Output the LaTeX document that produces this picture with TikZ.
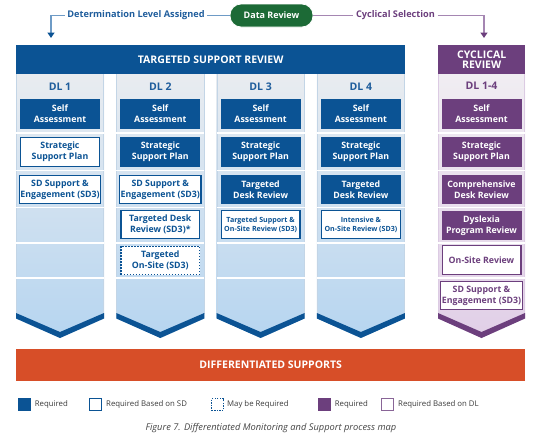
\documentclass[tikz,border=0pt]{standalone}
\usepackage{fontspec}
\setmainfont{Open Sans}
\usetikzlibrary{arrows.meta,calc}
\definecolor{tblue}{HTML}{0B5394}
\definecolor{hblue}{HTML}{1F5D9C}
\definecolor{lnblue}{HTML}{6E9BC6}
\definecolor{tpurp}{HTML}{6C3F7D}
\definecolor{lnpurp}{HTML}{A586B2}
\definecolor{tgreen}{HTML}{1C6A36}
\definecolor{torange}{HTML}{D74E28}
\definecolor{colTop}{HTML}{E9ECF0}
\definecolor{colBot}{HTML}{B6D5F0}
\definecolor{pcolTop}{HTML}{F0EDF2}
\definecolor{pcolBot}{HTML}{E1CFE7}
\definecolor{colEdge}{HTML}{C3D5E6}
\definecolor{pcolEdge}{HTML}{DCCBE3}
\definecolor{legtext}{HTML}{3A3A3A}
\definecolor{captext}{HTML}{444444}
\begin{document}
\begin{tikzpicture}[x=1pt,y=-1pt,
  box/.style={minimum width=80pt, minimum height=29.5pt, inner sep=1pt, align=center, font=\fontsize{8.8}{10.8}\selectfont\bfseries},
  req/.style={box, fill=tblue, text=white},
  sdb/.style={box, fill=white, draw=tblue, line width=1.2pt, text=tblue, minimum width=78.8pt, minimum height=28.3pt},
  maybox/.style={sdb, dash pattern=on 1.5pt off 1.5pt},
  smalltxt/.style={font=\fontsize{7.1}{9}\selectfont\bfseries},
  preq/.style={box, fill=tpurp, text=white},
  pdl/.style={box, fill=white, draw=tpurp, line width=1.2pt, text=tpurp, minimum width=78.8pt, minimum height=28.3pt},
  dlhead/.style={font=\fontsize{10.5}{12}\selectfont\bfseries, text=hblue},
  banner/.style={anchor=north west, inner sep=0pt, align=center, text=white, font=\fontsize{10.5}{12}\selectfont\bfseries},
  toplabel/.style={inner sep=2.5pt, font=\fontsize{9.2}{11}\selectfont\bfseries},
  lgsq/.style={minimum size=13pt, inner sep=0pt},
  lgtxt/.style={anchor=west, inner sep=0pt, text=legtext, font=\fontsize{7.8}{9}\selectfont},
  sep/.style={white, line width=1.2pt},
]
\useasboundingbox (0,0) rectangle (542,440);

% ---------- columns (targeted) ----------
\foreach \L in {16,116.3,216.6,316.9}{
  \shade[top color=colTop, bottom color=colBot]
    (\L,74) -- (\L+88,74) -- (\L+88,318.5) -- (\L+44,338) -- (\L,318.5) -- cycle;
  \draw[colEdge, line width=0.7pt] (\L+0.35,74) -- (\L+0.35,314) (\L+87.65,74) -- (\L+87.65,314);
  \foreach \y in {133,170.5,207.5,243,278}{
    \draw[sep] (\L,\y) -- (\L+88,\y);
  }
  \fill[tblue] (\L,313) -- (\L+44,332) -- (\L+88,313) -- (\L+88,318.5) -- (\L+44,338) -- (\L,318.5) -- cycle;
}
% ---------- cyclical column ----------
\shade[top color=pcolTop, bottom color=pcolBot]
  (438,74) -- (525,74) -- (525,318.5) -- (481.5,338) -- (438,318.5) -- cycle;
\draw[pcolEdge, line width=0.7pt] (438.35,74) -- (438.35,314) (524.65,74) -- (524.65,314);
\foreach \y in {133,170.5,207.5,243,278}{
  \draw[sep] (438,\y) -- (525,\y);
}
\fill[tpurp] (438,313) -- (481.5,332) -- (525,313) -- (525,318.5) -- (481.5,338) -- (438,318.5) -- cycle;

% ---------- banners ----------
\node[banner, fill=tblue, minimum width=389pt, minimum height=29pt] (tsr) at (16,45) {TARGETED SUPPORT REVIEW};
\node[banner, fill=tpurp, minimum width=87pt, minimum height=29pt] (cyc) at (438,45) {CYCLICAL\\[-1.5pt]REVIEW};
\node[banner, fill=torange, minimum width=509pt, minimum height=32pt] (diff) at (16,349) {DIFFERENTIATED SUPPORTS};

% ---------- top flow ----------
\node[fill=tgreen, draw=white, line width=0.8pt, rounded corners=11pt, minimum width=83pt, minimum height=23pt, inner sep=0pt,
      text=white, font=\fontsize{9}{11}\selectfont\bfseries] (dr) at (271.5,15.5) {Data Review};
\node[toplabel, text=hblue] (dla) at (136,15.5) {Determination Level Assigned};
\node[toplabel, text=tpurp] (csl) at (395.5,15.5) {Cyclical Selection};
\coordinate (ltip) at (51,38);
\coordinate (rtip) at (484,38);
\draw[lnblue, line width=1.3pt] (dla.east) -- (dr.west);
\draw[lnblue, line width=1.3pt, -{Triangle[width=7pt,length=5.5pt,color=tblue]}] (dla.west) -| (ltip);
\draw[lnpurp, line width=1.3pt] (dr.east) -- (csl.west);
\draw[lnpurp, line width=1.3pt, -{Triangle[width=7pt,length=5.5pt,color=tpurp]}] (csl.east) -| (rtip);

% ---------- column headers ----------
\node[dlhead] (h1) at (60,87) {DL 1};
\node[dlhead] (h2) at (160.3,87) {DL 2};
\node[dlhead] (h3) at (260.6,87) {DL 3};
\node[dlhead] (h4) at (360.9,87) {DL 4};
\node[dlhead, text=tpurp] (h5) at (481.5,86) {DL 1-4};

% ---------- DL 1 ----------
\node[req] (a1) at (60,114) {Self\\Assessment};
\node[sdb] (a2) at (60,152) {Strategic\\Support Plan};
\node[sdb] (a3) at (60,189.5) {SD Support \&\\Engagement (SD3)};
% ---------- DL 2 ----------
\node[req] (b1) at (160.3,114) {Self\\Assessment};
\node[req] (b2) at (160.3,152) {Strategic\\Support Plan};
\node[sdb] (b3) at (160.3,189.5) {SD Support \&\\Engagement (SD3)};
\node[sdb] (b4) at (160.3,224.5) {Targeted Desk\\Review (SD3)*};
\node[maybox] (b5) at (160.3,260.5) {Targeted\\On-Site (SD3)};
% ---------- DL 3 ----------
\node[req] (c1) at (260.6,114) {Self\\Assessment};
\node[req] (c2) at (260.6,152) {Strategic\\Support Plan};
\node[req] (c3) at (260.6,189.5) {Targeted\\Desk Review};
\node[sdb, smalltxt] (c4) at (260.6,224.5) {Targeted Support \&\\On-Site Review (SD3)};
% ---------- DL 4 ----------
\node[req] (d1) at (360.9,114) {Self\\Assessment};
\node[req] (d2) at (360.9,152) {Strategic\\Support Plan};
\node[req] (d3) at (360.9,189.5) {Targeted\\Desk Review};
\node[sdb, smalltxt] (d4) at (360.9,224.5) {Intensive \&\\On-Site Review (SD3)};
% ---------- DL 1-4 ----------
\node[preq] (e1) at (481.5,114) {Self\\Assessment};
\node[preq] (e2) at (481.5,152) {Strategic\\Support Plan};
\node[preq] (e3) at (481.5,189.5) {Comprehensive\\Desk Review};
\node[preq] (e4) at (481.5,225.5) {Dyslexia\\Program Review};
\node[pdl] (e5) at (481.5,260) {On-Site Review};
\node[pdl] (e6) at (481.5,295.5) {SD Support \&\\Engagement (SD3)};

% ---------- legend ----------
\node[lgsq, fill=tblue] (l1) at (24.5,404.5) {};
\node[lgtxt] (t1) at ([xshift=3.5pt]l1.east) {Required};
\node[lgsq, fill=white, draw=tblue, line width=1.2pt, minimum size=11.8pt] (l2) at (95.5,404.5) {};
\node[lgtxt] (t2) at ([xshift=4pt]l2.east) {Required Based on SD};
\node[lgsq, fill=white, draw=tblue, line width=1.1pt, dash pattern=on 1.3pt off 1.3pt, minimum size=11.8pt] (l3) at (217.5,404.5) {};
\node[lgtxt] (t3) at ([xshift=3pt]l3.east) {May be Required};
\node[lgsq, fill=tpurp] (l4) at (324.5,404.5) {};
\node[lgtxt] (t4) at ([xshift=3.5pt]l4.east) {Required};
\node[lgsq, fill=white, draw=tpurp!80, line width=1.2pt, minimum size=11.8pt] (l5) at (387.5,404.5) {};
\node[lgtxt] (t5) at ([xshift=4pt]l5.east) {Required Based on DL};

% ---------- caption ----------
\node[text=captext, font=\fontsize{9.3}{11}\selectfont\itshape] (cap) at (271,428) {Figure 7. Differentiated Monitoring and Support process map};
\end{tikzpicture}
\end{document}
